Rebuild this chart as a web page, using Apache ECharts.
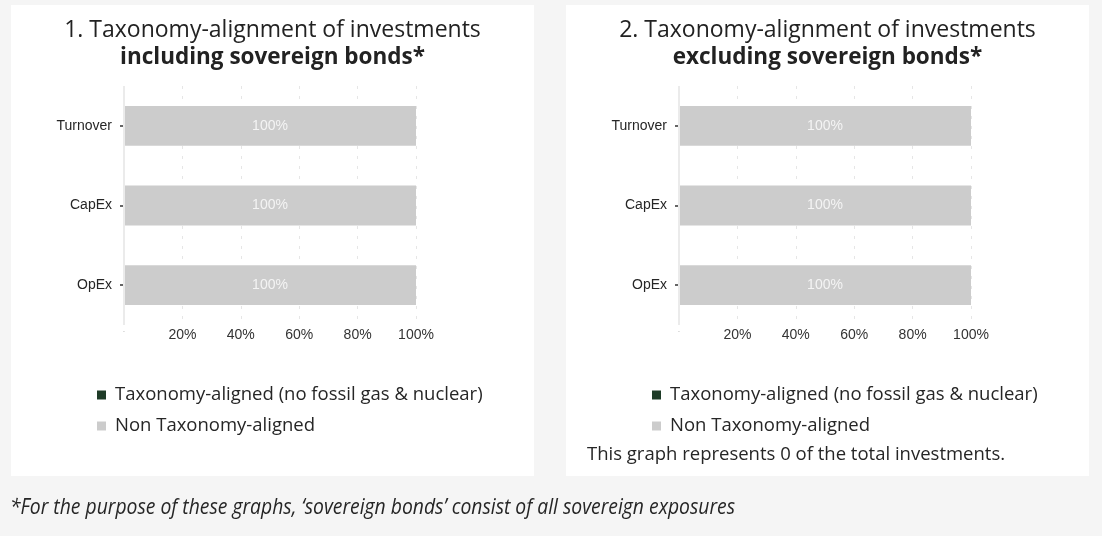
<!DOCTYPE html>
<html>
<head>
<meta charset="utf-8">
<script src="https://cdn.jsdelivr.net/npm/echarts@6/dist/echarts.min.js"></script>
<style>
html,body{margin:0;padding:0;background:#f5f5f5;}
#chart{width:1102px;height:536px;}
</style>
</head>
<body>
<div id="chart"></div>
<script>
// ---- data ----
const categories = ['Turnover', 'CapEx', 'OpEx'];
const alignedIncl = [0, 0, 0];
const nonAlignedIncl = [100, 100, 100];
const alignedExcl = [0, 0, 0];
const nonAlignedExcl = [100, 100, 100];
const seriesNames = ['Taxonomy-aligned (no fossil gas & nuclear)', 'Non Taxonomy-aligned'];
const titlesLine1 = ['1. Taxonomy-alignment of investments', '2. Taxonomy-alignment of investments'];
const titlesLine2 = ['including sovereign bonds*', 'excluding sovereign bonds*'];
const noteText = 'This graph represents 0 of the total investments.';
const footnote = '*For the purpose of these graphs, \u2018sovereign bonds\u2019 consist of all sovereign exposures';

const COL_ALIGNED = '#1e3b27';
const COL_NON = '#cccccc';
const TXT = '#262626';

const chart = echarts.init(document.getElementById('chart'), null, {renderer: 'canvas'});

function xAxisCfg(idx) {
  return {
    type: 'value', gridIndex: idx, min: 0, max: 100, interval: 20,
    axisLine: {show: false}, axisTick: {show: false},
    splitLine: {show: true, lineStyle: {color: '#e6e6e6', type: [3, 7], width: 1}},
    axisLabel: {
      color: '#333', fontSize: 14, fontFamily: 'Liberation Sans', margin: 3,
      formatter: v => v === 0 ? '{s|-}' : v + '%',
      rich: {s: {fontSize: 7, color: '#bbb'}}
    }
  };
}
function yAxisCfg(idx) {
  return {
    type: 'category', gridIndex: idx, data: categories, inverse: true, offset: 3,
    axisLine: {show: false},
    axisTick: {show: true, length: 4, lineStyle: {color: '#333', width: 1.5}, alignWithLabel: true},
    axisLabel: {color: '#262626', fontSize: 14, fontFamily: 'Liberation Sans', margin: 9},
    splitLine: {show: false}
  };
}
function barSeries(idx, aligned, non) {
  return [
    {
      name: seriesNames[0], type: 'bar', stack: 's' + idx, xAxisIndex: idx, yAxisIndex: idx,
      data: aligned, barWidth: '50%', itemStyle: {color: COL_ALIGNED},
      label: {show: false}
    },
    {
      name: seriesNames[1], type: 'bar', stack: 's' + idx, xAxisIndex: idx, yAxisIndex: idx,
      data: non, barWidth: '50%', itemStyle: {color: COL_NON},
      label: {show: true, position: 'inside', color: '#f4f4f4', fontSize: 14, fontFamily: 'Liberation Sans',
        formatter: p => p.value + '%'},
      markLine: {
        silent: true, symbol: 'none', label: {show: false},
        lineStyle: {color: '#ebebeb', type: 'solid', width: 2},
        data: [{xAxis: 0}]
      }
    }
  ];
}

const panels = [
  {x: 11, w: 523},
  {x: 566, w: 523}
];

const graphic = [];
panels.forEach((p, i) => {
  graphic.push({type: 'rect', z: -10, shape: {x: p.x, y: 5, width: p.w, height: 471}, style: {fill: '#ffffff'}});
  graphic.push({type: 'text', x: p.x + p.w / 2, y: 30, style: {text: titlesLine1[i], align: 'center', verticalAlign: 'middle',
    fontFamily: 'Open Sans', fontSize: 23, fill: '#222'}});
  graphic.push({type: 'text', x: p.x + p.w / 2, y: 58, style: {text: titlesLine2[i], align: 'center', verticalAlign: 'middle',
    fontFamily: 'Open Sans', fontWeight: 'bold', fontSize: 22.5, fill: '#222'}});
});
graphic.push({type: 'text', x: 587, y: 455, style: {text: noteText, verticalAlign: 'middle',
  fontFamily: 'Open Sans', fontSize: 18.5, fill: TXT}});
graphic.push({type: 'text', x: 10, y: 508, scaleX: 0.92, style: {text: footnote, verticalAlign: 'middle',
  fontFamily: 'Open Sans', fontStyle: 'italic', fontSize: 21, fill: TXT}});

function legendCfg(left) {
  return {
    data: seriesNames, orient: 'vertical', left: left, top: 379,
    icon: 'rect', itemWidth: 9, itemHeight: 9, itemGap: 9, selectedMode: false,
    textStyle: {fontFamily: 'Open Sans', fontSize: 18.5, color: TXT, lineHeight: 22, padding: [0, 0, 0, 4]}
  };
}

chart.setOption({
  backgroundColor: '#f5f5f5',
  animation: false,
  grid: [
    {left: 124, width: 292, top: 86, height: 239},
    {left: 679, width: 292, top: 86, height: 239}
  ],
  xAxis: [xAxisCfg(0), xAxisCfg(1)],
  yAxis: [yAxisCfg(0), yAxisCfg(1)],
  legend: [legendCfg(92), legendCfg(647)],
  series: [...barSeries(0, alignedIncl, nonAlignedIncl), ...barSeries(1, alignedExcl, nonAlignedExcl)],
  graphic: graphic
});
</script>
</body>
</html>
